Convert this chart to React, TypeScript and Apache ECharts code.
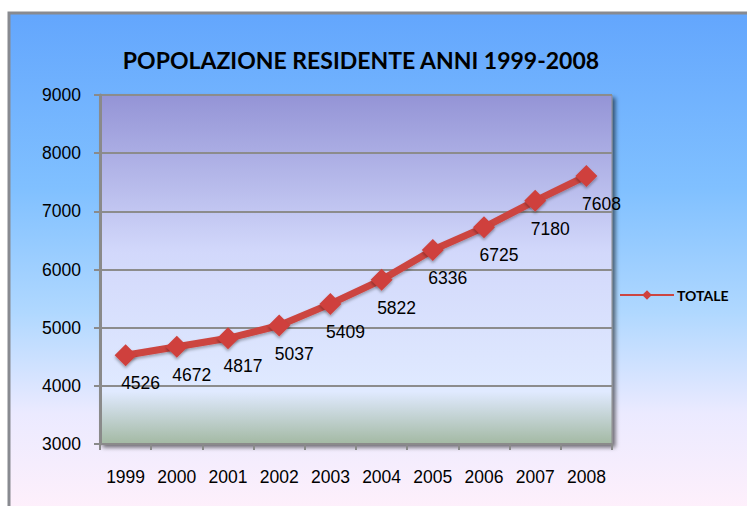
import React, { useEffect, useRef } from "react";
import * as echarts from "echarts";

const years = ["1999", "2000", "2001", "2002", "2003", "2004", "2005", "2006", "2007", "2008"];
const totale = [4526, 4672, 4817, 5037, 5409, 5822, 6336, 6725, 7180, 7608];
const titleText = "POPOLAZIONE RESIDENTE ANNI 1999-2008";
const seriesName = "TOTALE";

export default function App() {
  const ref = useRef<HTMLDivElement>(null);
  useEffect(() => {
    if (!ref.current) return;
    const chart = echarts.init(ref.current, null, { renderer: "svg" });
    chart.setOption({
      animation: false,
      graphic: [
        {
          type: "rect",
          z: -100,
          shape: { x: 9, y: 13, width: 760, height: 500 },
          style: {
            fill: new echarts.graphic.LinearGradient(0, 0, 0, 1, [
              { offset: 0, color: "#63a6fd" },
              { offset: 0.35, color: "#80c0ff" },
              { offset: 0.6, color: "#b0d8ff" },
              { offset: 0.8, color: "#ebeaff" },
              { offset: 1, color: "#fff0fb" },
            ]),
            stroke: "#888a90",
            lineWidth: 3,
          },
        },
      ],
      title: {
        text: titleText,
        left: 356,
        top: 43,
        textAlign: "center",
        textStyle: { fontFamily: "Lato", fontWeight: "bold", fontSize: 23, color: "#000" },
      },
      legend: {
        left: 614,
        top: 283,
        itemWidth: 54,
        itemHeight: 12,
        itemGap: 4,
        textStyle: { fontFamily: "Lato", fontWeight: "bold", fontSize: 14, color: "#000", padding: [0, 0, 0, -2] },
        data: [seriesName],
      },
      grid: {
        left: 100,
        right: 135,
        top: 95,
        bottom: 62,
        show: true,
        borderColor: "#8a8a8a",
        borderWidth: 1,
        shadowColor: "rgba(0,0,0,0.55)",
        shadowOffsetX: 3,
        shadowOffsetY: 3,
        shadowBlur: 4,
        backgroundColor: new echarts.graphic.LinearGradient(0, 0, 0, 1, [
          { offset: 0, color: "#9494d6" },
          { offset: 0.45, color: "#d2d8fb" },
          { offset: 0.85, color: "#e0eaff" },
          { offset: 1, color: "#a3b9a3" },
        ]),
      },
      xAxis: {
        type: "category",
        data: years,
        boundaryGap: true,
        axisLine: { show: true, lineStyle: { color: "#8a8a8a", width: 2 } },
        axisTick: { show: true, length: 6, lineStyle: { color: "#8a8a8a", width: 2 } },
        axisLabel: { margin: 24, fontFamily: "Liberation Sans", fontSize: 17.5, color: "#000" },
      },
      yAxis: {
        type: "value",
        min: 3000,
        max: 9000,
        interval: 1000,
        axisLine: { show: true, lineStyle: { color: "#8a8a8a", width: 3 } },
        axisTick: { show: true, length: 6, lineStyle: { color: "#8a8a8a", width: 2 } },
        splitLine: { show: true, lineStyle: { color: "#8c8c8c", width: 2 } },
        axisLabel: {
          margin: 19,
          fontFamily: "Liberation Sans",
          fontSize: 17.5,
          color: "#000",
          formatter: (v: number) => String(v),
        },
      },
      series: [
        {
          name: seriesName,
          type: "line",
          data: totale,
          symbol: "diamond",
          symbolSize: 22,
          lineStyle: { color: "#cc4541", width: 7, shadowColor: "rgba(0,0,0,0.3)", shadowBlur: 3, shadowOffsetY: 2 },
          itemStyle: { color: "#cf403c", shadowColor: "rgba(0,0,0,0.35)", shadowBlur: 3, shadowOffsetY: 2 },
          label: {
            show: true,
            position: "bottom",
            distance: 8,
            offset: [15, 0],
            fontFamily: "Liberation Sans",
            fontSize: 17.5,
            color: "#000",
          },
        },
      ],
    });
    return () => chart.dispose();
  }, []);
  return <div ref={ref} style={{ position: "absolute", left: 0, top: 0, width: 747, height: 506 }} />;
}
